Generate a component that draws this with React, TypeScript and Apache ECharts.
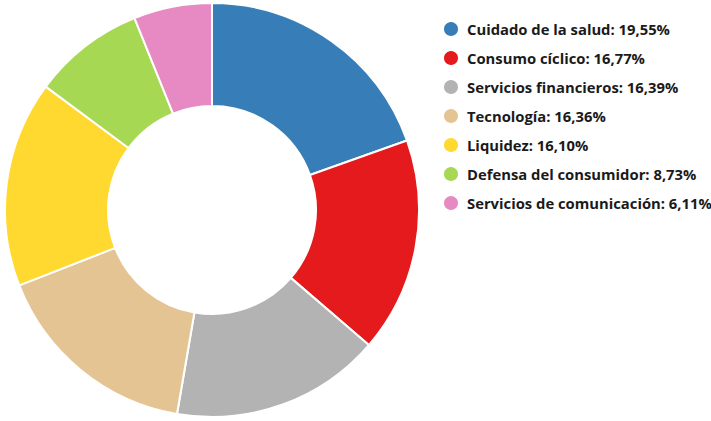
import React, { useEffect, useRef } from "react";
import * as echarts from "echarts";

const categories = [
  "Cuidado de la salud",
  "Consumo cíclico",
  "Servicios financieros",
  "Tecnología",
  "Liquidez",
  "Defensa del consumidor",
  "Servicios de comunicación",
];
const values = [19.55, 16.77, 16.39, 16.36, 16.1, 8.73, 6.11];
const colors = ["#377EB8", "#E41A1C", "#B3B3B3", "#E5C494", "#FFD92F", "#A6D854", "#E78AC3"];

export default function App() {
  const ref = useRef<HTMLDivElement>(null);
  useEffect(() => {
    if (!ref.current) return;
    const chart = echarts.init(ref.current, null, { renderer: "svg" });
    const fmt = (v: number) => v.toFixed(2).replace(".", ",");
    const valueMap: Record<string, number> = {};
    categories.forEach((c, i) => (valueMap[c] = values[i]));
    chart.setOption({
      animation: false,
      color: colors,
      legend: {
        orient: "vertical",
        left: 442,
        top: 20,
        padding: 0,
        icon: "circle",
        itemWidth: 16,
        itemHeight: 16,
        itemGap: 11,
        selectedMode: false,
        formatter: (name: string) => `${name}: ${fmt(valueMap[name])}%`,
        textStyle: {
          fontFamily: "Open Sans",
          fontWeight: 700,
          fontSize: 14.8,
          lineHeight: 16,
          color: "#1a1a1a",
          padding: [0, 0, 0, 3],
        },
      },
      series: [
        {
          type: "pie",
          center: [212, 210],
          radius: [104, 207],
          startAngle: 90,
          clockwise: true,
          label: { show: false },
          labelLine: { show: false },
          itemStyle: { borderColor: "#ffffff", borderWidth: 2 },
          emphasis: { disabled: true },
          data: categories.map((c, i) => ({ name: c, value: values[i] })),
        },
      ],
    });
    return () => chart.dispose();
  }, []);
  return (
    <div
      ref={ref}
      style={{ position: "fixed", left: 0, top: 0, width: 711, height: 421, background: "#fff" }}
    />
  );
}
